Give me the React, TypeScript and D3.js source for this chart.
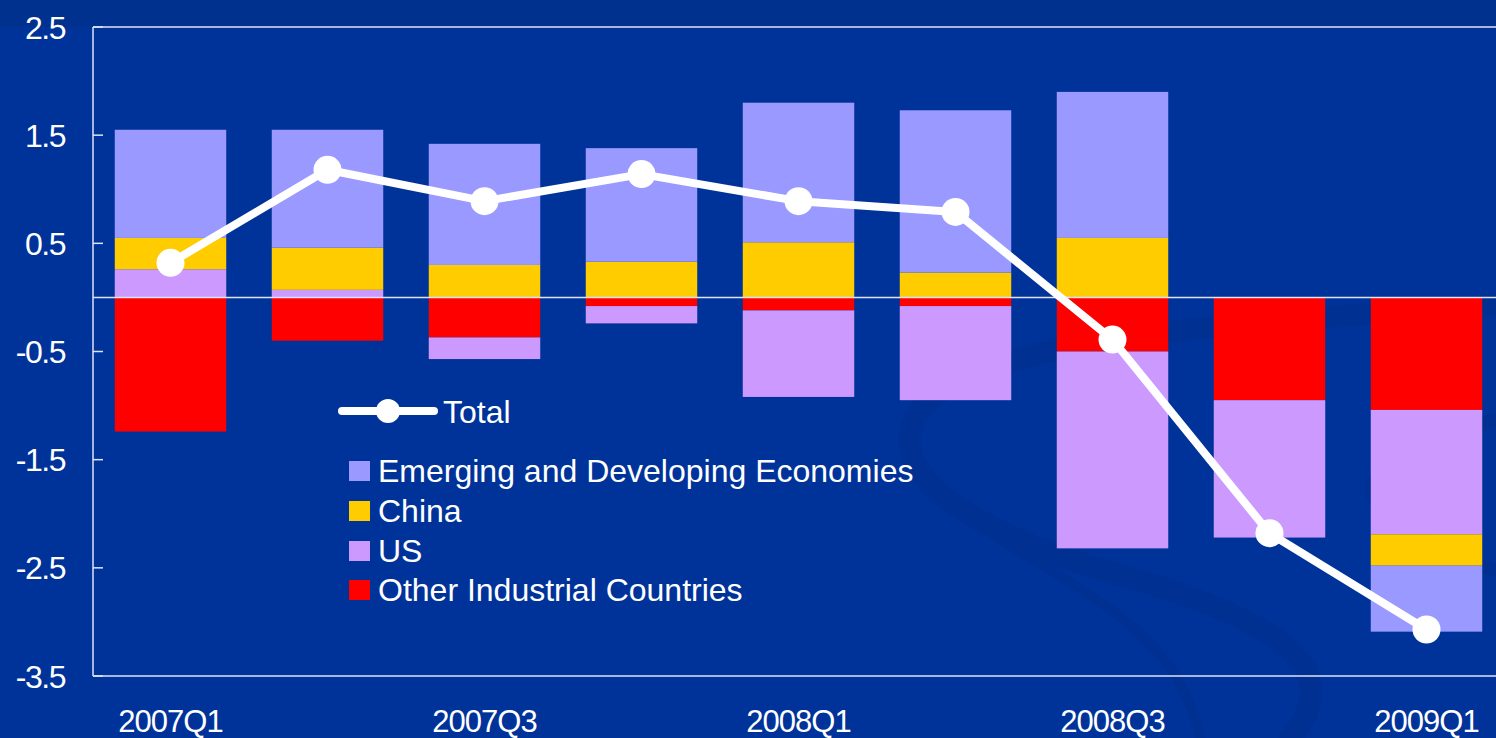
import React from "react";
import * as d3 from "d3";

const quarters = ["2007Q1", "2007Q2", "2007Q3", "2007Q4", "2008Q1", "2008Q2", "2008Q3", "2008Q4", "2009Q1"];
const xTickLabels = ["2007Q1", "2007Q3", "2008Q1", "2008Q3", "2009Q1"];
const yTicks = [2.5, 1.5, 0.5, -0.5, -1.5, -2.5, -3.5];

const otherIndustrial = [-1.24, -0.40, -0.37, -0.08, -0.12, -0.08, -0.50, -0.95, -1.04];
const us = [0.26, 0.07, -0.20, -0.16, -0.80, -0.87, -1.82, -1.27, -1.15];
const china = [0.29, 0.39, 0.30, 0.33, 0.51, 0.23, 0.55, 0, -0.29];
const emerging = [1.00, 1.09, 1.12, 1.05, 1.29, 1.50, 1.35, 0, -0.61];
const total = [0.32, 1.18, 0.89, 1.14, 0.89, 0.79, -0.39, -2.18, -3.07];

const seriesKeys = ["other", "us", "china", "emerging"];
const seriesColors: Record<string, string> = {
  emerging: "#9999FF",
  china: "#FFCC00",
  us: "#CC99FF",
  other: "#FF0000",
};
const legendItems = [
  { key: "emerging", label: "Emerging and Developing Economies" },
  { key: "china", label: "China" },
  { key: "us", label: "US" },
  { key: "other", label: "Other Industrial Countries" },
];

const W = 1496;
const H = 738;
const FONT = "Arial, 'Liberation Sans', Helvetica, sans-serif";

export default function App() {
  const rows = quarters.map((q, i) => ({
    q,
    other: otherIndustrial[i],
    us: us[i],
    china: china[i],
    emerging: emerging[i],
  }));

  const x = d3
    .scaleBand<string>()
    .domain(quarters)
    .range([92, 1505])
    .paddingInner(0.29)
    .paddingOuter(0.145);
  const y = d3.scaleLinear().domain([-3.5, 2.5]).range([676, 27]);

  const stack = d3
    .stack<any>()
    .keys(seriesKeys)
    .offset(d3.stackOffsetDiverging);
  const stacked = stack(rows);

  const cx = (q: string) => (x(q) as number) + x.bandwidth() / 2;
  const line = d3
    .line<number>()
    .x((_, i) => cx(quarters[i]))
    .y((d) => y(d));

  const axisColor = "#dfe3f5";
  const left = 93;

  return (
    <svg
      width={W}
      height={H}
      style={{ position: "absolute", left: 0, top: 0, display: "block" }}
      fontFamily={FONT}
    >
      <rect x={0} y={0} width={W} height={H} fill="#003399" />
      <rect x={0} y={0} width={W} height={27} fill="#00318f" />
      {/* decorative swoosh */}
      <g fill="none" stroke="#002d88" strokeLinecap="round" opacity={0.45}>
        <path
          d="M1496,305 C1300,320 1020,330 935,395 C860,460 960,530 1120,575 C1280,620 1350,670 1290,738"
          strokeWidth={22}
        />
        <path
          d="M1496,420 C1420,440 1360,470 1375,500 C1390,530 1460,560 1496,570"
          strokeWidth={14}
        />
        <path d="M1000,540 C1100,600 1180,640 1200,738" strokeWidth={10} />
      </g>

      {/* frame */}
      <line x1={left} x2={W} y1={27} y2={27} stroke={axisColor} strokeWidth={1.5} />
      <line x1={left} x2={W} y1={676} y2={676} stroke={axisColor} strokeWidth={1.5} />
      <line x1={left} x2={left} y1={27} y2={676} stroke={axisColor} strokeWidth={1.5} />
      {yTicks.map((t) => (
        <g key={t}>
          <line x1={left} x2={left + 10} y1={y(t)} y2={y(t)} stroke={axisColor} strokeWidth={1.5} />
          <text
            x={65}
            y={y(t)}
            dy="0.36em"
            textAnchor="end"
            fill="#ffffff"
            fontSize={32}
            letterSpacing={-1.5}
          >
            {t}
          </text>
        </g>
      ))}

      {/* bars */}
      {stacked.map((s) => (
        <g key={s.key} fill={seriesColors[s.key]}>
          {s.map((d, i) => {
            const y0 = y(d[0]);
            const y1 = y(d[1]);
            const h = Math.abs(y0 - y1);
            if (h < 0.01) return null;
            return (
              <rect
                key={i}
                x={x(quarters[i])}
                width={x.bandwidth()}
                y={Math.min(y0, y1)}
                height={h}
              />
            );
          })}
        </g>
      ))}

      {/* zero line */}
      <line x1={left} x2={W} y1={y(0)} y2={y(0)} stroke={axisColor} strokeWidth={1.5} />

      {/* total line */}
      <path d={line(total) || ""} fill="none" stroke="#ffffff" strokeWidth={8} strokeLinejoin="round" />
      {total.map((v, i) => (
        <circle key={i} cx={cx(quarters[i])} cy={y(v)} r={14} fill="#ffffff" />
      ))}

      {/* x labels */}
      {xTickLabels.map((q) => (
        <text
          key={q}
          x={cx(q)}
          y={732}
          textAnchor="middle"
          fill="#ffffff"
          fontSize={31}
          letterSpacing={-1}
        >
          {q}
        </text>
      ))}

      {/* legend */}
      <line x1={342} x2={434} y1={411} y2={411} stroke="#ffffff" strokeWidth={8} strokeLinecap="round" />
      <circle cx={388} cy={411} r={12} fill="#ffffff" />
      <text x={443} y={423} fill="#ffffff" fontSize={32}>
        Total
      </text>
      {legendItems.map((it, i) => {
        const cy = [471, 511, 551, 590][i];
        return (
          <g key={it.key}>
            <rect x={349} y={cy - 10} width={21} height={20} fill={seriesColors[it.key]} />
            <text x={378} y={cy + 11} fill="#ffffff" fontSize={32}>
              {it.label}
            </text>
          </g>
        );
      })}
    </svg>
  );
}
